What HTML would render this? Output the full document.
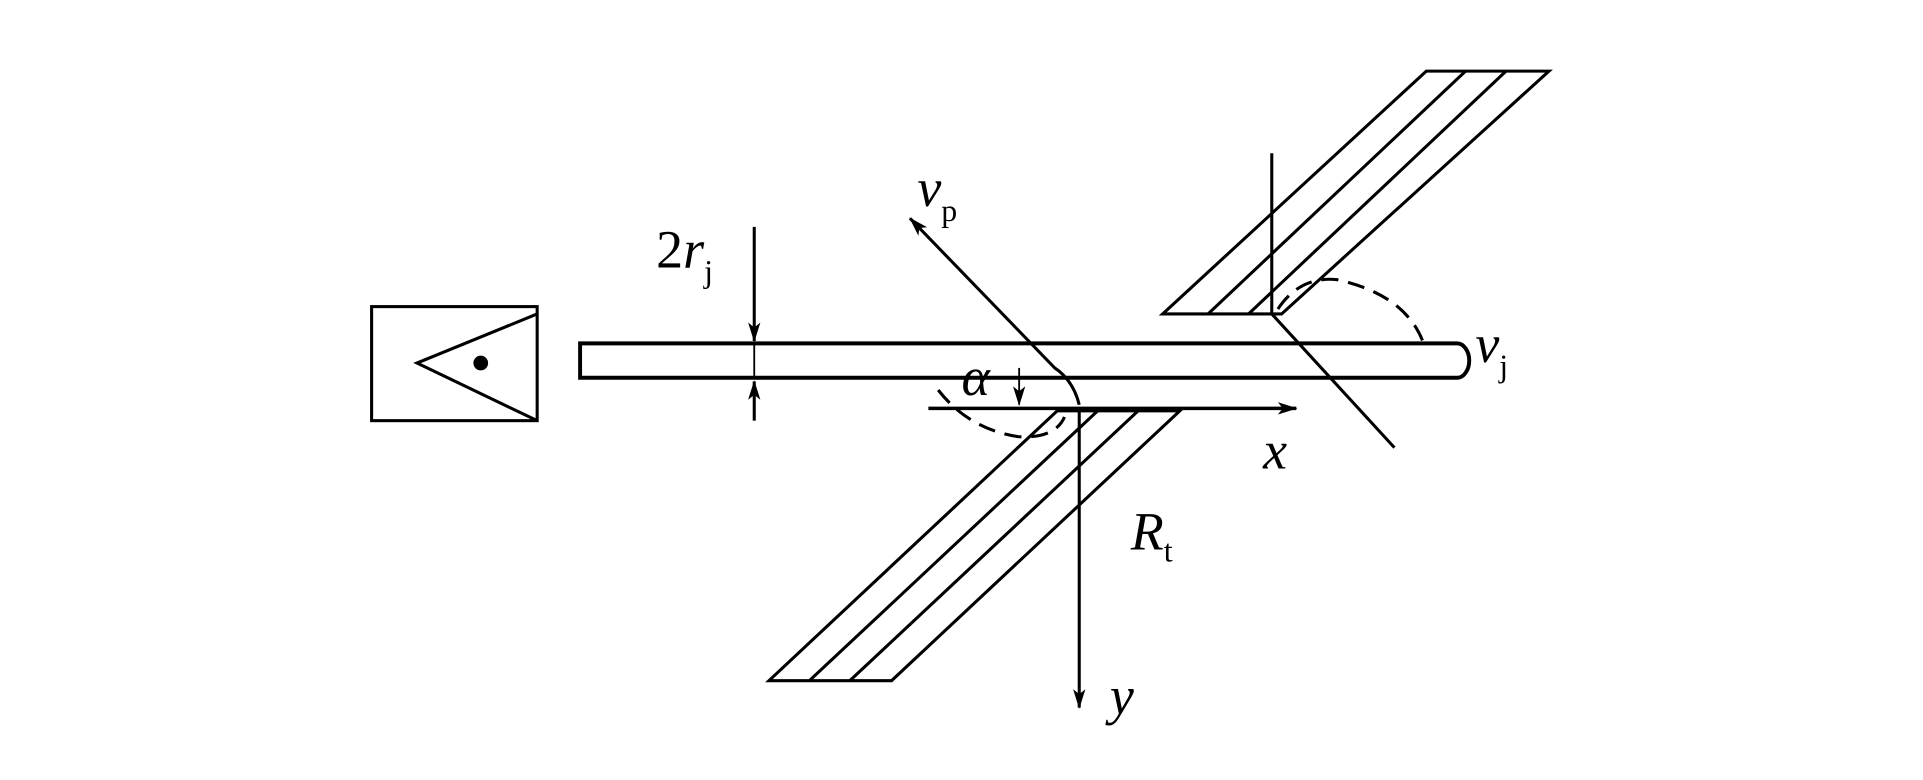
<!DOCTYPE html><html><head><style>html,body{margin:0;padding:0;background:#fff}svg{display:block}</style></head><body>
<svg width="1923" height="780" viewBox="0 0 1568 636" preserveAspectRatio="none" xmlns="http://www.w3.org/2000/svg">
<defs><marker id="a" markerWidth="16" markerHeight="12" refX="15" refY="6" orient="auto" markerUnits="userSpaceOnUse"><path d="M0,1 L16,6 L0,11 L4,6 Z" fill="#000"/></marker></defs>
<g stroke="#000" fill="none" stroke-width="2.5">
<rect x="303" y="250" width="135" height="93"/>
<polyline points="438,256 340,296 438,343"/>
<path d="M473,280 H1188 A10,14 0 0 1 1188,308 H473 Z" stroke-width="3.2"/>
<line x1="615" y1="185" x2="615" y2="278" marker-end="url(#a)"/>
<line x1="615" y1="343" x2="615" y2="311" marker-end="url(#a)"/>
<line x1="615" y1="280" x2="615" y2="308" stroke-width="1.5"/>
<path d="M1163,58 H1263 L1045,256 H948 Z"/>
<line x1="1195" y1="58" x2="985" y2="256"/>
<line x1="1228" y1="58" x2="1018" y2="256"/>
<line x1="1037" y1="125" x2="1037" y2="256"/>
<line x1="1037" y1="256" x2="1137" y2="365"/>
<path d="M1042,252 Q1060,225 1090,228 Q1145,240 1160,278" stroke-dasharray="14,8"/>
<path d="M862,335 H962 L727,555 H627 Z"/>
<line x1="895" y1="335" x2="660" y2="555"/>
<line x1="928" y1="335" x2="693" y2="555"/>
<line x1="757" y1="333" x2="1057" y2="333" marker-end="url(#a)" stroke-width="2.8"/>
<line x1="880" y1="333" x2="880" y2="577" marker-end="url(#a)"/>
<path d="M880,330 Q875,310 860,300 L742,178" marker-end="url(#a)"/>
<path d="M765,318 Q790,350 830,356 Q860,358 868,340" stroke-dasharray="14,8"/>
<line x1="831" y1="300" x2="831" y2="330" stroke-width="1.5" marker-end="url(#a)"/>
</g>
<circle cx="392" cy="296" r="6" fill="#000"/>
<g font-family="Liberation Serif, serif" font-style="italic" font-size="44" fill="#000">
<text x="535" y="218"><tspan font-style="normal">2</tspan>r<tspan font-size="26" font-style="normal" dy="12">j</tspan></text>
<text x="748" y="168">v<tspan font-size="26" font-style="normal" dy="12">p</tspan></text>
<text x="1203" y="295">v<tspan font-size="26" font-style="normal" dy="12">j</tspan></text>
<text x="784" y="322">α</text>
<text x="1030" y="382">x</text>
<text x="905" y="582">y</text>
<text x="922" y="448">R<tspan font-size="26" font-style="normal" dy="10">t</tspan></text>
</g>
</svg></body></html>
